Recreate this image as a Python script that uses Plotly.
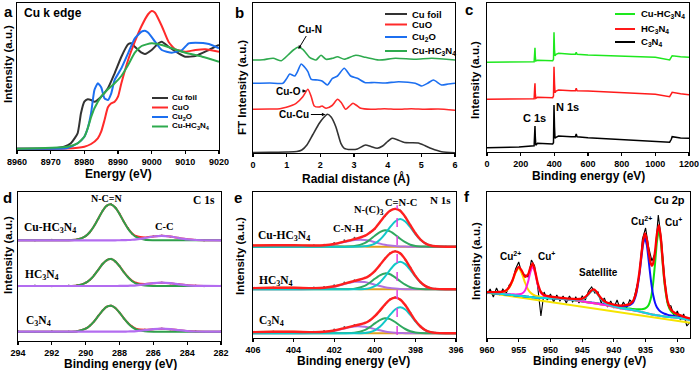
import plotly.graph_objects as go

W, H = 700, 370
SANS = "Liberation Sans, Arial, sans-serif"
SERIF = "Liberation Serif, Times New Roman, serif"

# ======================= DATA =======================
# (a) Cu K-edge XANES (normalised intensity)
a_E_foil = [8960, 8970, 8974, 8976, 8978, 8979, 8980, 8981, 8982, 8983, 8985, 8987, 8989, 8991, 8993, 8994, 8995, 8997, 8998, 9000, 9002, 9003, 9005, 9008, 9010, 9013, 9017, 9020]
a_I_foil = [0.003, 0.005, 0.023, 0.057, 0.157, 0.357, 0.473, 0.497, 0.49, 0.473, 0.523, 0.607, 0.757, 0.923, 1.047, 1.057, 1.023, 0.963, 0.95, 0.99, 1.057, 1.073, 1.023, 0.957, 0.923, 0.93, 0.99, 1.04]
a_E_cuo = [8960, 8975, 8980, 8982, 8984, 8985, 8986, 8987, 8988, 8989, 8990, 8991, 8993, 8995, 8997, 8999, 9000, 9001, 9003, 9005, 9007, 9010, 9013, 9016, 9020]
a_I_cuo = [0.003, 0.005, 0.023, 0.05, 0.107, 0.173, 0.29, 0.417, 0.457, 0.473, 0.523, 0.657, 0.89, 1.073, 1.23, 1.35, 1.38, 1.363, 1.23, 1.073, 0.997, 0.973, 0.99, 0.997, 0.973]
a_E_cu2o = [8960, 8975, 8978, 8980, 8981, 8982, 8983, 8984, 8985, 8986, 8987, 8988, 8989, 8991, 8993, 8995, 8997, 8998, 8999, 9001, 9003, 9006, 9009, 9011, 9013, 9017, 9020]
a_I_cu2o = [0.003, 0.01, 0.057, 0.123, 0.207, 0.357, 0.59, 0.657, 0.617, 0.507, 0.49, 0.557, 0.69, 0.807, 0.957, 1.107, 1.173, 1.183, 1.163, 1.073, 0.99, 0.963, 0.99, 1.057, 1.063, 1.05, 1.007]
a_E_cuhcn = [8960, 8975, 8978, 8980, 8981, 8982, 8983, 8985, 8987, 8989, 8991, 8993, 8995, 8997, 9000, 9003, 9006, 9010, 9015, 9020]
a_I_cuhcn = [0.003, 0.023, 0.057, 0.123, 0.207, 0.317, 0.407, 0.523, 0.597, 0.657, 0.73, 0.84, 0.963, 1.03, 1.057, 1.04, 1.007, 0.963, 0.923, 0.873]

# (b) FT-EXAFS (stacked, arbitrary units)
b_R_foil = [0, 0.5, 1.0, 1.3, 1.45, 1.6, 1.77, 1.97, 2.1, 2.21, 2.32, 2.46, 2.61, 2.71, 2.9, 3.1, 3.34, 3.5, 3.69, 3.85, 4.0, 4.13, 4.3, 4.5, 4.7, 4.91, 5.1, 5.3, 5.6, 6.0]
b_I_foil = [0.5, 0.6, 1.0, 1.5, 3.0, 8.0, 18.0, 29.7, 35.5, 38.7, 36.0, 26.3, 9.7, 4.7, 3.5, 4.0, 8.0, 6.5, 4.7, 7.0, 11.5, 14.7, 13.0, 10.5, 10.3, 10.0, 7.5, 4.5, 1.3, 0.3]
b_R_cuo = [0, 0.5, 0.8, 0.99, 1.28, 1.48, 1.63, 1.73, 1.82, 1.97, 2.05, 2.17, 2.35, 2.51, 2.62, 2.75, 2.87, 2.97, 3.08, 3.2, 3.5, 3.9, 4.3, 4.7, 5.1, 5.5, 6.0]
b_I_cuo = [43.7, 44.0, 44.3, 45.7, 49.7, 56.3, 63.7, 56.3, 47.0, 46.0, 47.0, 44.7, 47.5, 53.7, 50.5, 43.7, 47.0, 49.7, 47.5, 44.7, 43.7, 44.3, 43.7, 44.3, 43.7, 44.0, 42.7]
b_R_cu2o = [0, 0.5, 0.89, 1.0, 1.09, 1.24, 1.33, 1.43, 1.53, 1.63, 1.73, 1.92, 2.05, 2.21, 2.36, 2.51, 2.71, 2.9, 3.1, 3.34, 3.6, 3.93, 4.33, 4.82, 5.01, 5.2, 5.36, 5.6, 5.8, 6.0]
b_I_cu2o = [69.7, 70.0, 69.7, 74.5, 79.0, 77.0, 82.0, 89.0, 86.0, 81.3, 73.7, 73.0, 72.0, 68.0, 74.7, 77.0, 84.7, 77.0, 74.7, 70.3, 70.5, 70.0, 71.3, 69.7, 67.0, 70.0, 73.0, 68.0, 69.0, 69.7]
b_R_cuhcn = [0, 0.3, 0.6, 0.84, 1.04, 1.2, 1.33, 1.48, 1.68, 1.87, 2.02, 2.17, 2.36, 2.51, 2.71, 3.05, 3.34, 3.74, 4.23, 4.82, 5.31, 6.0]
b_I_cuhcn = [93.0, 93.3, 94.7, 92.3, 98.0, 103.0, 105.7, 103.7, 95.7, 93.0, 97.7, 93.7, 94.7, 96.3, 93.7, 97.7, 95.7, 93.0, 94.7, 93.7, 94.7, 93.0]

# (c) XPS survey (stacked)
c_BE = [0, 190, 280, 283, 285, 287, 290, 300, 390, 395, 398, 401, 404, 410, 425, 500, 525, 530, 535, 600, 700, 800, 900, 1000, 1085, 1095, 1100, 1150, 1200]
c_I_c3n4 = [4.3, 5.0, 6.3, 18.7, 26.0, 15.3, 6.7, 8.7, 8.0, 9.3, 47.0, 25.3, 13.7, 14.7, 16.0, 15.3, 15.3, 18.0, 15.3, 14.3, 13.3, 12.7, 11.7, 10.7, 9.8, 12.7, 15.3, 14.0, 13.7]
c_I_hc3n4 = [52.7, 53.0, 53.3, 63.7, 68.7, 58.7, 53.7, 54.7, 54.3, 56.0, 85.3, 68.7, 59.3, 61.0, 62.0, 61.3, 61.3, 63.7, 61.3, 61.0, 60.2, 59.3, 58.5, 57.7, 55.3, 58.7, 59.7, 58.3, 57.3]
c_I_cuhcn = [89.7, 90.0, 90.3, 98.7, 104.3, 95.3, 91.0, 91.7, 91.3, 92.7, 119.7, 102.0, 96.3, 97.7, 98.7, 97.7, 97.7, 99.7, 97.7, 97.0, 96.5, 96.0, 95.3, 94.7, 92.0, 95.3, 96.3, 95.3, 94.7]

# (d) C 1s (each spectrum relative to its own baseline)
d_BE = [294, 293, 292, 291, 290.5, 290, 289.75, 289.5, 289.25, 289, 288.75, 288.5, 288.25, 288, 287.75, 287.5, 287.25, 287, 286.5, 286, 285.5, 285, 284.5, 284, 283.5, 283, 282]
d_ncn_c3n4 = [0, 0, 0, 0.05, 0.55, 3.0, 6.0, 10.3, 15.8, 21.1, 25.0, 25.9, 23.7, 19.1, 13.5, 8.5, 4.6, 2.2, 0.4, 0, 0, 0, 0, 0, 0, 0, 0]
d_cc_c3n4 = [0, 0, 0, 0, 0, 0, 0, 0, 0, 0, 0, 0, 0, 0.04, 0.09, 0.19, 0.36, 0.63, 1.5, 2.5, 3.0, 2.5, 1.5, 0.63, 0.19, 0.04, 0]
d_env_c3n4 = [0, 0, 0, 0.05, 0.55, 3.0, 6.0, 10.3, 15.8, 21.1, 25.0, 25.9, 23.7, 19.1, 13.6, 8.7, 5.0, 2.8, 1.9, 2.5, 3.0, 2.5, 1.5, 0.63, 0.19, 0.04, 0]
d_raw_c3n4 = [0.6, -0.4, 0.5, 0.3, 0.8, 3.3, 6.3, 10.1, 16.1, 21.4, 24.7, 26.2, 23.9, 19.3, 13.2, 9.0, 5.3, 2.6, 2.2, 2.7, 3.3, 2.3, 1.8, 0.4, 0.5, -0.3, 0.4]
d_ncn_hc3n4 = [0, 0, 0, 0.05, 0.6, 3.2, 6.2, 10.7, 16.4, 22.0, 25.9, 26.9, 24.6, 19.8, 14.0, 8.8, 4.8, 2.3, 0.4, 0, 0, 0, 0, 0, 0, 0, 0]
d_cc_hc3n4 = [0, 0, 0, 0, 0, 0, 0, 0, 0, 0, 0, 0, 0, 0.04, 0.1, 0.21, 0.4, 0.7, 1.65, 2.8, 3.3, 2.8, 1.65, 0.7, 0.21, 0.04, 0]
d_env_hc3n4 = [0, 0, 0, 0.05, 0.6, 3.2, 6.2, 10.7, 16.4, 22.0, 25.9, 26.9, 24.6, 19.8, 14.1, 9.0, 5.2, 3.0, 2.05, 2.8, 3.3, 2.8, 1.65, 0.7, 0.21, 0.04, 0]
d_raw_hc3n4 = [-0.3, 0.5, -0.2, 0.4, 0.9, 3.5, 6.0, 11.0, 16.2, 22.3, 25.6, 27.2, 24.3, 20.1, 13.8, 9.3, 5.0, 3.3, 1.8, 3.1, 3.5, 2.6, 1.9, 0.5, 0.5, -0.2, 0.3]
d_ncn_cuhcn = [0, 0, 0, 0.07, 0.76, 4.2, 8.3, 14.3, 21.9, 29.3, 34.6, 35.9, 32.8, 26.4, 18.7, 11.7, 6.4, 3.1, 0.5, 0.04, 0, 0, 0, 0, 0, 0, 0]
d_cc_cuhcn = [0, 0, 0, 0, 0, 0, 0, 0, 0, 0, 0, 0, 0, 0.06, 0.14, 0.28, 0.54, 0.95, 2.25, 3.8, 4.5, 3.8, 2.25, 0.95, 0.28, 0.06, 0]
d_env_cuhcn = [0, 0, 0, 0.07, 0.76, 4.2, 8.3, 14.3, 21.9, 29.3, 34.6, 35.9, 32.8, 26.5, 18.8, 12.0, 6.9, 4.0, 2.75, 3.84, 4.5, 3.8, 2.25, 0.95, 0.28, 0.06, 0]
d_raw_cuhcn = [0.4, -0.3, 0.6, 0.2, 1.0, 4.5, 8.0, 14.6, 21.6, 29.6, 34.3, 36.3, 32.5, 26.8, 18.5, 12.3, 6.6, 4.3, 2.5, 4.1, 4.8, 3.6, 2.5, 0.7, 0.5, -0.2, 0.3]

# (e) N 1s (each spectrum relative to its own baseline)
e_BE = [406, 405, 404, 403, 402.5, 402, 401.5, 401, 400.5, 400.25, 400, 399.75, 399.5, 399.25, 399, 398.75, 398.5, 398.25, 398, 397.75, 397.5, 397.25, 397, 396.5, 396]
e_bg = [1.2, 1.5, 1.5, 1.0, 0.8, 0.5, 0.3, 0.2, 0.1, 0, 0, 0, 0, 0, 0, 0, 0, 0, 0, 0, 0, 0, 0, 0, 0]
e_cnc_c3n4 = [0, 0, 0, 0, 0, 0, 0, 0.05, 0.4, 1.1, 3.0, 6.5, 11.9, 18.4, 23.8, 26.0, 23.8, 18.4, 11.9, 6.5, 3.0, 1.1, 0.4, 0, 0]
e_nc3_c3n4 = [0, 0, 0, 0, 0, 0, 0.05, 0.5, 3.2, 6.2, 9.9, 13.2, 15.0, 14.2, 11.3, 7.6, 4.3, 2.0, 0.8, 0.3, 0.1, 0, 0, 0, 0]
e_cnh_c3n4 = [0, 0, 0, 0.2, 0.7, 2.3, 4.8, 6.8, 6.5, 5.5, 4.2, 3.0, 1.9, 1.1, 0.6, 0.3, 0.1, 0, 0, 0, 0, 0, 0, 0, 0]
e_env_c3n4 = [1.2, 1.5, 1.5, 1.2, 1.5, 2.8, 5.2, 7.6, 10.2, 12.8, 17.1, 22.7, 28.8, 33.7, 35.7, 33.9, 28.2, 20.4, 12.7, 6.8, 3.1, 1.1, 0.4, 0, 0]
e_raw_c3n4 = [1.0, 1.8, 1.4, 1.6, 2.2, 3.8, 6.3, 8.4, 10.6, 13.0, 17.4, 22.5, 28.6, 33.9, 36.0, 33.6, 28.0, 20.6, 12.4, 7.0, 3.0, 1.3, 0.6, 0.2, 0.1]
e_cnc_hc3n4 = [0, 0, 0, 0, 0, 0, 0, 0.05, 0.4, 1.2, 3.1, 6.9, 12.6, 19.5, 25.2, 27.6, 25.2, 19.5, 12.6, 6.9, 3.1, 1.2, 0.4, 0, 0]
e_nc3_hc3n4 = [0, 0, 0, 0, 0, 0, 0.05, 0.6, 3.4, 6.6, 10.5, 14.0, 15.9, 15.1, 12.0, 8.1, 4.6, 2.1, 0.8, 0.3, 0.1, 0, 0, 0, 0]
e_cnh_hc3n4 = [0, 0, 0, 0.2, 0.8, 2.5, 5.3, 7.5, 7.2, 6.1, 4.6, 3.3, 2.1, 1.2, 0.7, 0.3, 0.1, 0, 0, 0, 0, 0, 0, 0, 0]
e_env_hc3n4 = [1.2, 1.5, 1.5, 1.2, 1.6, 3.0, 5.7, 8.4, 11.1, 13.9, 18.2, 24.2, 30.6, 35.8, 37.9, 36.0, 29.9, 21.6, 13.4, 7.2, 3.2, 1.2, 0.4, 0, 0]
e_raw_hc3n4 = [1.3, 1.7, 1.3, 1.7, 2.4, 4.0, 6.8, 9.0, 11.5, 14.1, 18.4, 24.0, 30.8, 36.1, 38.1, 35.7, 29.6, 21.8, 13.2, 7.4, 3.1, 1.4, 0.5, 0.2, 0.0]
e_cnc_cuhcn = [0, 0, 0, 0, 0, 0, 0, 0.05, 0.4, 1.2, 3.1, 6.9, 12.6, 19.5, 25.2, 27.6, 25.2, 19.5, 12.6, 6.9, 3.1, 1.2, 0.4, 0, 0]
e_nc3_cuhcn = [0, 0, 0, 0, 0, 0, 0.05, 0.6, 3.5, 6.8, 10.9, 14.5, 16.4, 15.3, 12.0, 8.0, 4.5, 2.0, 0.8, 0.3, 0.1, 0, 0, 0, 0]
e_cnh_cuhcn = [0, 0, 0, 0.2, 0.7, 2.2, 4.6, 6.6, 6.8, 6.0, 4.5, 3.1, 1.9, 1.1, 0.6, 0.3, 0.1, 0, 0, 0, 0, 0, 0, 0, 0]
e_env_cuhcn = [1.2, 1.5, 1.5, 1.2, 1.5, 2.7, 5.0, 7.5, 10.8, 14.0, 18.1, 24.5, 30.9, 35.9, 37.8, 35.9, 29.8, 21.5, 13.4, 7.2, 3.2, 1.2, 0.4, 0, 0]
e_raw_cuhcn = [1.1, 1.6, 1.6, 1.4, 2.0, 3.6, 6.5, 8.9, 11.0, 14.3, 18.0, 24.5, 30.4, 35.6, 38.0, 36.2, 29.6, 21.4, 13.6, 7.0, 3.4, 1.0, 0.4, 0.3, 0.1]

# (f) Cu 2p
f_BE = [960, 959, 958, 957.5, 957, 956.5, 956, 955.5, 955, 954.5, 954, 953.5, 953.2, 952.8, 952.4, 952, 951.5, 951, 950, 949,
        948, 947, 946, 945, 944.5, 944, 943.6, 943.2, 942.8, 942.4, 942, 941.5, 941, 940, 939, 938, 937.5, 937, 936.5, 936,
        935.7, 935.4, 935.1, 934.8, 934.5, 934.2, 934, 933.8, 933.5, 933.2, 932.9, 932.6, 932.3, 932, 931.5, 931, 930.5, 930, 929, 928]
f_shirley = [45.3, 44.8, 44.3, 44.0, 43.6, 43.3, 43.0, 42.6, 42.3, 41.9, 41.5, 41.2, 41.0, 40.8, 40.5, 40.3, 40.1, 40.0, 39.7, 39.3,
             38.9, 38.2, 37.5, 36.5, 35.9, 35.4, 35.0, 34.7, 34.3, 33.9, 33.5, 33.0, 32.5, 31.0, 29.7, 28.8, 28.3, 27.7, 27.1, 26.5,
             26.0, 25.6, 25.2, 24.7, 24.2, 23.8, 23.5, 23.3, 23.0, 22.7, 22.4, 22.1, 21.8, 21.5, 21.1, 20.8, 20.5, 20.2, 19.3, 18.0]
f_cu1_p32 = [0, 0, 0, 0, 0, 0, 0, 0, 0, 0, 0, 0, 0, 0, 0, 0, 0, 0, 0, 0,
             0, 0, 0, 0.1, 0.1, 0.2, 0.2, 0.2, 0.2, 0.2, 0.3, 0.3, 0.35, 0.45, 0.6, 0.9, 1.1, 1.3, 1.7, 2.3,
             2.7, 3.4, 4.3, 6.0, 9.0, 15.1, 22.0, 32.2, 52.1, 74.2, 85.0, 74.2, 52.1, 32.2, 12.8, 6.0, 3.7, 2.6, 1.4, 0.9]
f_cu2_p32 = [0, 0, 0, 0, 0, 0, 0, 0, 0, 0, 0, 0, 0, 0, 0, 0, 0, 0, 0.15, 0.15,
             0.2, 0.2, 0.25, 0.3, 0.35, 0.4, 0.4, 0.45, 0.5, 0.55, 0.6, 0.7, 0.8, 1.2, 1.8, 3.1, 4.5, 7.7, 16.5, 35.8,
             52.4, 67.9, 75.0, 67.9, 52.4, 35.8, 26.6, 19.4, 12.0, 7.7, 5.5, 4.1, 3.3, 2.7, 2.0, 1.6, 1.3, 1.05, 0.75, 0.55]
f_sat = [0, 0, 0, 0, 0, 0, 0, 0, 0, 0, 0, 0, 0, 0, 0, 0, 0, 0.1, 0.14, 0.19,
         0.27, 0.42, 0.76, 2.2, 4.4, 8.1, 11.4, 13.0, 11.4, 8.1, 5.1, 2.5, 1.3, 0.6, 0.35, 0.24, 0.2, 0.17, 0.15, 0.13,
         0.1, 0.1, 0.1, 0.1, 0.1, 0.1, 0, 0, 0, 0, 0, 0, 0, 0, 0, 0, 0, 0, 0, 0]
f_cu2_p12 = [0.5, 0.8, 1.4, 2.1, 3.6, 7.1, 13.75, 22.6, 27.5, 22.6, 13.75, 7.1, 4.7, 2.8, 1.9, 1.4, 1.0, 0.8, 0.5, 0.4,
             0.3, 0.25, 0.2, 0.15, 0.15, 0.1, 0.1, 0.1, 0.1, 0.1, 0.1, 0.1, 0.1, 0.1, 0, 0, 0, 0, 0, 0,
             0, 0, 0, 0, 0, 0, 0, 0, 0, 0, 0, 0, 0, 0, 0, 0, 0, 0, 0, 0]
f_cu1_p12 = [0.15, 0.2, 0.28, 0.34, 0.43, 0.53, 0.71, 1.0, 1.4, 2.5, 6.0, 15.5, 24.1, 31.0, 24.1, 13.0, 4.9, 2.2, 0.9, 0.5,
             0.34, 0.25, 0.2, 0.15, 0.15, 0.1, 0.1, 0.1, 0.1, 0.1, 0.1, 0.1, 0.1, 0.1, 0, 0, 0, 0, 0, 0,
             0, 0, 0, 0, 0, 0, 0, 0, 0, 0, 0, 0, 0, 0, 0, 0, 0, 0, 0, 0]
f_lin_BE = [960, 928]
f_lin = [45.3, 15.3]
f_raw_BE = [960, 959.5, 959, 958.5, 958, 957.5, 957, 956.5, 956, 955.5, 955, 954.5, 954, 953.5, 953, 952.5, 952, 951.5, 951, 950.5,
            950, 949.5, 949, 948.5, 948, 947.5, 947, 946.5, 946, 945.5, 945, 944.5, 944, 943.5, 943, 942.5, 942, 941.5, 941, 940.5,
            940, 939.5, 939, 938.5, 938, 937.5, 937, 936.5, 936, 935.5, 935, 934.5, 934, 933.5, 933, 932.5, 932, 931.5, 931, 930.5,
            930, 929.5, 929, 928.5, 928]
f_raw = [44, 49, 41, 50, 43, 49, 44, 53, 56, 69, 76, 64, 63, 61, 78, 72, 51, 22, 46, 38,
         44, 36, 43, 37, 42, 35, 42, 36, 41, 35, 42, 38, 47, 51, 45, 46, 35, 40, 31, 37,
         30, 38, 29, 36, 30, 38, 35, 49, 62, 99, 110, 90, 77, 85, 123, 98, 60, 33, 32, 21,
         27, 18, 24, 12, 16]

# Tick settings
a_ticks = [8960, 8970, 8980, 8990, 9000, 9010, 9020]
b_ticks = [0, 1, 2, 3, 4, 5, 6]
c_ticks = [0, 200, 400, 600, 800, 1000, 1200]
d_ticks = [294, 292, 290, 288, 286, 284, 282]
e_ticks = [406, 404, 402, 400, 398, 396]
f_ticks = [960, 955, 950, 945, 940, 935, 930]

# ======================= FIGURE =======================
fig = go.Figure()


def px_dom(a, b):
    return [a / W, b / W]


def py_dom(top, bottom):
    return [1 - bottom / H, 1 - top / H]


def line(x, y, ax, color, width=1.6, shape="spline", smoothing=0.6, dash=None):
    fig.add_trace(go.Scatter(
        x=x, y=y, mode="lines", xaxis="x" + ax, yaxis="y" + ax,
        line=dict(color=color, width=width, shape=shape, smoothing=smoothing if shape == "spline" else None, dash=dash),
        showlegend=False, hoverinfo="skip"))


def dots(x, y, ax, color="#555555", size=2.2):
    fig.add_trace(go.Scatter(
        x=x, y=y, mode="markers", xaxis="x" + ax, yaxis="y" + ax,
        marker=dict(color=color, size=size), showlegend=False, hoverinfo="skip"))


# ---- (a)
line(a_E_foil, a_I_foil, "", "#333333", 2.0, smoothing=0.5)
line(a_E_cuo, a_I_cuo, "", "#ff2a2a", 2.0, smoothing=0.5)
line(a_E_cu2o, a_I_cu2o, "", "#1c6ff0", 2.0, smoothing=0.5)
line(a_E_cuhcn, a_I_cuhcn, "", "#2eaa4e", 2.0, smoothing=0.5)

# ---- (b)
line(b_R_foil, b_I_foil, "2", "#333333", 1.6)
line(b_R_cuo, b_I_cuo, "2", "#ff2a2a", 1.6)
line(b_R_cu2o, b_I_cu2o, "2", "#1c6ff0", 1.6)
line(b_R_cuhcn, b_I_cuhcn, "2", "#2eaa4e", 1.6)

# ---- (c)
line(c_BE, c_I_c3n4, "3", "#000000", 1.5, shape="linear")
line(c_BE, c_I_hc3n4, "3", "#ff1a1a", 1.5, shape="linear")
line(c_BE, c_I_cuhcn, "3", "#1ee81e", 1.5, shape="linear")

# ---- (d) stacked spectra: offsets are only presentation positions
D_OFF = [9.3, 55.0, 100.7]
d_sets = [(d_ncn_c3n4, d_cc_c3n4, d_env_c3n4, d_raw_c3n4),
          (d_ncn_hc3n4, d_cc_hc3n4, d_env_hc3n4, d_raw_hc3n4),
          (d_ncn_cuhcn, d_cc_cuhcn, d_env_cuhcn, d_raw_cuhcn)]
for off, (ncn, cc, env, raw) in zip(D_OFF, d_sets):
    dots(d_BE, [v + off for v in raw], "4", "#666666", 2.0)
    line(d_BE, [v + off for v in env], "4", "#ff2a2a", 2.0)
    line(d_BE, [v + off for v in ncn], "4", "#2e9f4a", 2.0)
    line(d_BE, [v + off for v in cc], "4", "#b36cf0", 2.2)

# ---- (e)
E_OFF = [4.7, 48.7, 91.3]
e_sets = [(e_cnc_c3n4, e_nc3_c3n4, e_cnh_c3n4, e_env_c3n4, e_raw_c3n4),
          (e_cnc_hc3n4, e_nc3_hc3n4, e_cnh_hc3n4, e_env_hc3n4, e_raw_hc3n4),
          (e_cnc_cuhcn, e_nc3_cuhcn, e_cnh_cuhcn, e_env_cuhcn, e_raw_cuhcn)]
for off, (cnc, nc3, cnh, env, raw) in zip(E_OFF, e_sets):
    dots(e_BE, [v + off for v in raw], "5", "#555555", 2.0)
    line(e_BE, [v + off for v in e_bg], "5", "#e0a020", 2.0)
    line(e_BE, [v + off for v in cnh], "5", "#b070e0", 2.0)
    line(e_BE, [v + off for v in nc3], "5", "#30a860", 2.0)
    line(e_BE, [v + off for v in cnc], "5", "#10c8c8", 2.0)
    line(e_BE, [v + off for v in env], "5", "#ff2020", 2.4)

# ---- (f): components sit on the Shirley background
line(f_raw_BE, f_raw, "6", "#000000", 1.1, shape="linear")
line(f_lin_BE, f_lin, "6", "#f5e400", 2.0, shape="linear")
line(f_BE, [b + c for b, c in zip(f_shirley, f_cu1_p32)], "6", "#10e010", 2.0)
line(f_BE, [b + c for b, c in zip(f_shirley, f_cu2_p32)], "6", "#1010ff", 2.0)
line(f_BE, [b + c for b, c in zip(f_shirley, f_cu2_p12)], "6", "#ffd800", 2.0)
line(f_BE, [b + c for b, c in zip(f_shirley, f_cu1_p12)], "6", "#ff20e0", 2.0)
line(f_BE, [b + c for b, c in zip(f_shirley, f_sat)], "6", "#10d8e0", 2.0)
f_env = [b + c1 + c2 + s + c3 + c4 for b, c1, c2, s, c3, c4 in
         zip(f_shirley, f_cu1_p32, f_cu2_p32, f_sat, f_cu2_p12, f_cu1_p12)]
line(f_BE, f_env, "6", "#ff0000", 2.3)

# ---- axes
TICKFONT = dict(family=SANS, size=9, color="black", weight="bold")


def xaxis(dom, rng, ticks, anchor):
    return dict(domain=dom, range=rng, anchor=anchor, showline=True, mirror=True, linecolor="black",
                linewidth=1.3, ticks="outside", ticklen=3, tickwidth=1.2, tickcolor="black",
                showgrid=False, zeroline=False, tickmode="array", tickvals=ticks,
                ticktext=[str(t) for t in ticks], tickfont=TICKFONT)


def yaxis(dom, rng, anchor):
    return dict(domain=dom, range=rng, anchor=anchor, showline=True, mirror=True, linecolor="black",
                linewidth=1.3, ticks="", showticklabels=False, showgrid=False, zeroline=False)


layout = dict(
    width=W, height=H, margin=dict(l=0, r=0, t=0, b=0, autoexpand=False),
    paper_bgcolor="white", plot_bgcolor="white", showlegend=False,
    xaxis=xaxis(px_dom(17, 219), [8960, 9020], a_ticks, "y"),
    yaxis=yaxis(py_dom(3, 150), [-0.01, 1.46], "x"),
    xaxis2=xaxis(px_dom(253, 455), [0, 6], b_ticks, "y2"),
    yaxis2=yaxis(py_dom(3, 153), [0, 150], "x2"),
    xaxis3=xaxis(px_dom(487, 689), [0, 1200], c_ticks, "y3"),
    yaxis3=yaxis(py_dom(3, 152), [0, 149], "x3"),
    xaxis4=xaxis(px_dom(18, 221), [294, 282], d_ticks, "y4"),
    yaxis4=yaxis(py_dom(192, 341), [0, 149], "x4"),
    xaxis5=xaxis(px_dom(253, 456), [406, 396], e_ticks, "y5"),
    yaxis5=yaxis(py_dom(192, 338), [0, 146], "x5"),
    xaxis6=xaxis(px_dom(487, 690), [960, 928], f_ticks, "y6"),
    yaxis6=yaxis(py_dom(192, 338), [0, 146], "x6"),
)

ann = []


def T(text, x, y, size, family=SANS, color="black", xanchor="center", angle=0):
    ann.append(dict(text=text, x=x / W, y=1 - y / H, xref="paper", yref="paper",
                    showarrow=False, xanchor=xanchor, yanchor="middle", textangle=angle,
                    font=dict(family=family, size=size, color=color, weight="bold")))


# panel letters
T("a", 8, 11, 15)
T("b", 239, 12, 15)
T("c", 469, 10, 15)
T("d", 7, 197, 15)
T("e", 238, 197, 15)
T("f", 467, 196, 15)

# axis titles
T("Energy (eV)", 118, 174, 12)
T("Intensity (a.u.)", 8, 64, 11.5, angle=-90)
T("Radial distance (Å)", 356, 178, 12)
T("FT Intensity (a.u.)", 242, 88, 11.5, angle=-90)
T("Binding energy (eV)", 588, 176, 12)
T("Intensity (a.u.)", 475, 80, 11.5, angle=-90)
T("Binding energy (eV)", 120, 364, 12)
T("Intensity (a.u.)", 8, 255, 11.5, angle=-90)
T("Binding energy (eV)", 353, 361, 12)
T("Intensity (a.u.)", 240, 256, 11.5, angle=-90)
T("Binding energy (eV)", 589, 361, 12)
T("Intensity (a.u.)", 476, 261, 11.5, angle=-90)

# (a) texts
T("Cu k edge", 22, 13, 12, xanchor="left")
# (c) texts
T("C 1s", 534, 118, 11)
T("N 1s", 567, 107, 11)
# (d) texts
T("N-C=N", 106, 198, 10, SERIF)
T("C 1s", 204, 200, 11.5, SERIF)
T("C-C", 164, 227, 10.5, SERIF)
T("Cu-HC<sub>3</sub>N<sub>4</sub>", 50, 228, 11.5, SERIF)
T("HC<sub>3</sub>N<sub>4</sub>", 42, 275, 11.5, SERIF)
T("C<sub>3</sub>N<sub>4</sub>", 38, 321, 11.5, SERIF)
# (e) texts
T("Cu-HC<sub>3</sub>N<sub>4</sub>", 284, 236, 11.5, SERIF)
T("HC<sub>3</sub>N<sub>4</sub>", 276, 281, 11.5, SERIF)
T("C<sub>3</sub>N<sub>4</sub>", 271, 321, 11.5, SERIF)
T("C-N-H", 348, 228, 10.5, SERIF)
T("N-(C)<sub>3</sub>", 369, 211, 10.5, SERIF)
T("C=N-C", 401, 202, 10.5, SERIF)
T("N 1s", 440, 200, 11, SERIF)
# (f) texts
T("Cu 2p", 669, 200, 11)
T("Cu<sup>2+</sup>", 510, 256, 10)
T("Cu<sup>+</sup>", 546, 256, 10)
T("Satellite", 598, 272, 10)
T("Cu<sup>2+</sup>", 641, 221, 10)
T("Cu<sup>+</sup>", 673, 222, 10)

# (b) arrows with labels
ARW = dict(showarrow=True, arrowhead=2, arrowsize=0.7, arrowwidth=1, arrowcolor="black",
           xref="x2", yref="y2", axref="pixel", ayref="pixel")
ARWFONT = dict(family=SANS, size=10, color="black", weight="bold")
ann.append(dict(text="Cu-N", x=1.35, y=104, ax=12, ay=-20, font=ARWFONT, **ARW))
ann.append(dict(text="Cu-O", x=1.58, y=62, ax=-18, ay=0, font=ARWFONT, **ARW))
ann.append(dict(text="Cu-Cu", x=2.15, y=38.5, ax=-31, ay=0, font=ARWFONT, **ARW))

shapes = []


def legend(entries, x0, x1, tx, size):
    for label, color, y in entries:
        shapes.append(dict(type="line", xref="paper", yref="paper", x0=x0 / W, x1=x1 / W,
                           y0=1 - y / H, y1=1 - y / H, line=dict(color=color, width=2)))
        T(label, tx, y, size, xanchor="left")


legend([("Cu foil", "#333333", 98), ("CuO", "#ff2a2a", 107.5),
        ("Cu<sub>2</sub>O", "#1c6ff0", 117), ("Cu-HC<sub>3</sub>N<sub>4</sub>", "#2eaa4e", 126.5)],
       152, 168, 170, 8)
legend([("Cu foil", "#333333", 14), ("CuO", "#ff2a2a", 24.5),
        ("Cu<sub>2</sub>O", "#1c6ff0", 37), ("Cu-HC<sub>3</sub>N<sub>4</sub>", "#2eaa4e", 51)],
       385, 407, 410, 9.5)
legend([("Cu-HC<sub>3</sub>N<sub>4</sub>", "#1ee81e", 14), ("HC<sub>3</sub>N<sub>4</sub>", "#ff1a1a", 29),
        ("C<sub>3</sub>N<sub>4</sub>", "#000000", 42)],
       615, 635, 639, 9.5)

# (e) dashed reference line at the C=N-C position
shapes.append(dict(type="line", xref="x5", yref="y5 domain", x0=398.9, x1=398.9, y0=0.02, y1=0.91,
                   line=dict(color="#e040e0", width=1.5, dash="dash")))

layout["annotations"] = ann
layout["shapes"] = shapes
fig.update_layout(**layout)
fig.write_html("out.html",
               config={"displayModeBar": False, "staticPlot": True},
               post_script="document.body.style.margin='0';document.body.style.padding='0';"
                           "document.body.style.overflow='hidden';")
